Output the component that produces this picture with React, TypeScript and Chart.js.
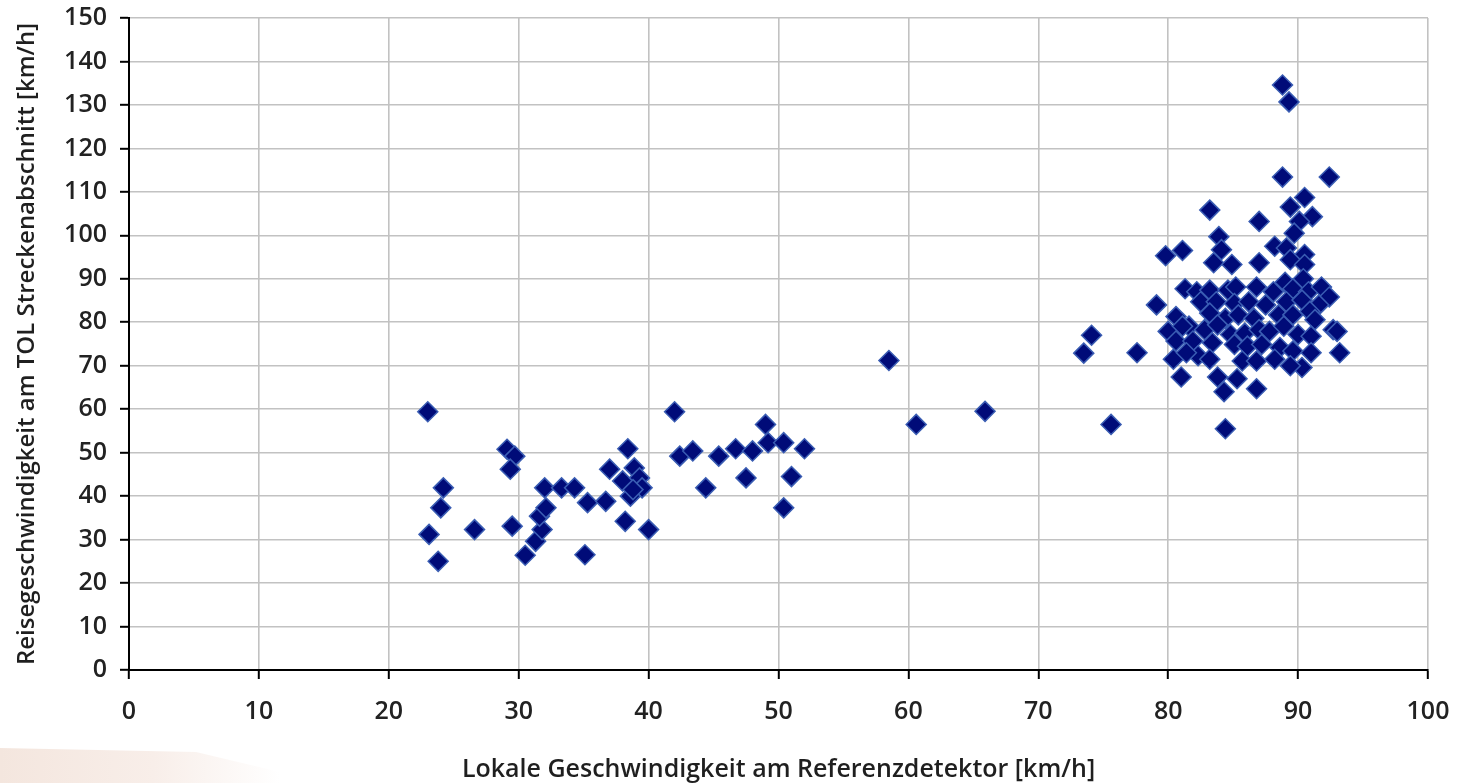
import React, { useEffect, useRef } from "react";
import { Chart, registerables } from "chart.js";

Chart.register(...registerables);

// Lokale Geschwindigkeit am Referenzdetektor [km/h] (x) vs. Reisegeschwindigkeit (y)
const lowX = [23.0, 29.1, 29.7, 29.35, 24.2, 24.0, 23.1, 23.8, 26.6, 29.5, 30.5, 31.3, 31.8, 31.6, 32.1, 32.0, 33.3, 34.3, 35.3, 35.1, 36.7, 37.0, 38.2, 38.0, 38.4, 38.9, 39.3, 39.5, 38.6, 38.8, 40.0, 42.0, 42.4, 43.4, 44.4, 45.4, 46.7, 47.5, 48.0, 49.0, 49.2, 50.4, 51.0, 50.4, 52.0];
const lowY = [59.4, 50.8, 49.2, 46.2, 41.9, 37.3, 31.2, 25.0, 32.3, 33.1, 26.4, 29.6, 32.3, 35.4, 37.3, 41.9, 41.9, 41.9, 38.5, 26.5, 38.8, 46.2, 34.2, 43.5, 50.9, 46.5, 44.2, 41.9, 40.0, 41.5, 32.3, 59.4, 49.2, 50.4, 41.9, 49.2, 50.9, 44.2, 50.4, 56.5, 52.3, 52.3, 44.5, 37.3, 50.9];

const midX = [58.5, 60.6, 65.9, 73.5, 74.1, 75.6, 77.6, 84.4];
const midY = [71.2, 56.5, 59.5, 72.9, 77.0, 56.5, 73.0, 55.5];

const topX = [88.8, 89.3, 88.8, 92.4, 90.5, 83.2, 89.4, 91.1, 87.0, 90.1, 89.7, 83.9, 84.1, 79.8, 81.1, 88.2, 89.1, 90.5, 83.5, 84.9, 87.0, 89.4, 90.5];
const topY = [134.6, 130.7, 113.4, 113.4, 108.7, 105.8, 106.5, 104.3, 103.2, 103.2, 100.5, 99.7, 96.7, 95.3, 96.5, 97.5, 97.1, 95.6, 93.7, 93.3, 93.7, 94.4, 93.3];

const coreX = [79.1, 81.3, 82.2, 83.2, 84.6, 85.2, 86.8, 88.1, 89.0, 89.6, 90.4, 90.8, 91.8, 92.4, 82.5, 83.7, 85.1, 86.2, 87.5, 89.1, 90.3, 91.6, 80.6, 83.2, 84.4, 85.4, 86.6, 88.5, 89.6, 90.9, 91.3, 80.0, 81.6, 82.8, 83.8, 84.8, 85.9, 87.0, 87.8, 88.9, 90.0, 91.0, 92.7, 93.0, 93.2, 80.6, 81.9, 83.4, 85.1, 86.1, 87.2, 88.6, 89.6, 91.0, 80.4, 82.3, 83.2, 85.7, 86.8, 88.2, 90.3, 81.0, 83.8, 85.3, 84.3, 86.8, 89.4, 81.1, 81.4];
const coreY = [84.0, 87.7, 87.0, 87.4, 87.4, 88.1, 88.1, 87.0, 89.2, 87.7, 90.0, 87.0, 88.1, 85.8, 84.7, 84.7, 84.3, 84.7, 84.0, 84.7, 85.1, 84.0, 81.3, 82.1, 80.9, 81.7, 80.9, 81.7, 81.7, 82.5, 80.6, 77.9, 79.1, 78.3, 79.4, 77.2, 77.5, 78.3, 77.9, 79.1, 77.2, 76.8, 78.3, 77.9, 73.0, 75.7, 75.7, 75.3, 74.9, 74.5, 74.9, 74.2, 73.4, 73.0, 71.5, 72.3, 71.5, 71.1, 71.1, 71.5, 69.6, 67.4, 67.4, 67.0, 64.0, 64.7, 70.0, 79.1, 73.0];

const xTickMin = 0;
const xTickMax = 100;
const yTickMin = 0;
const yTickMax = 150;

const xTitle = "Lokale Geschwindigkeit am Referenzdetektor [km/h]";
const yTitle = "Reisegeschwindigkeit am TOL Streckenabschnitt [km/h]";

const allX = [...lowX, ...midX, ...topX, ...coreX];
const allY = [...lowY, ...midY, ...topY, ...coreY];

export default function App() {
  const ref = useRef<HTMLCanvasElement | null>(null);

  useEffect(() => {
    document.body.style.margin = "0";
    const canvas = ref.current;
    if (!canvas) return;
    const fontFamily = "'Open Sans', sans-serif";
    const chart = new Chart(canvas, {
      type: "scatter",
      data: {
        datasets: [
          {
            data: allX.map((x, i) => ({ x, y: allY[i] })),
            pointStyle: "rectRot",
            pointRadius: 10,
            pointHoverRadius: 10,
            backgroundColor: "#000b78",
            borderColor: "#3a5db3",
            borderWidth: 1.5,
          },
        ],
      },
      options: {
        responsive: false,
        animation: false,
        devicePixelRatio: 1,
        layout: { padding: { left: 0, right: 30, top: 18, bottom: 0 } },
        plugins: { legend: { display: false }, tooltip: { enabled: false } },
        scales: {
          x: {
            type: "linear",
            min: xTickMin,
            max: xTickMax,
            afterFit: (s: any) => {
              s.height = 113;
              s.paddingLeft = 0;
              s.paddingRight = 0;
            },
            ticks: {
              stepSize: 10,
              padding: 18,
              color: "#222",
              font: { family: fontFamily, size: 25, weight: "600" },
            },
            grid: {
              color: "#c2c2c2",
              lineWidth: 1.6,
              tickColor: "#000",
              tickLength: 9,
              tickWidth: 2,
            },
            border: { color: "#000", width: 2 },
            title: {
              display: true,
              text: xTitle,
              color: "#1f1f1f",
              font: { family: fontFamily, size: 25, weight: "600", lineHeight: 1 },
              padding: { top: 0, bottom: 1 },
            },
          },
          y: {
            type: "linear",
            min: yTickMin,
            max: yTickMax,
            afterFit: (s: any) => {
              s.width = 129;
              s.paddingTop = 0;
              s.paddingBottom = 0;
            },
            ticks: {
              stepSize: 10,
              padding: 13,
              color: "#222",
              font: { family: fontFamily, size: 25, weight: "600" },
            },
            grid: {
              color: "#c2c2c2",
              lineWidth: 1.6,
              tickColor: "#000",
              tickLength: 9,
              tickWidth: 2,
            },
            border: { color: "#000", width: 2 },
            title: {
              display: true,
              text: yTitle,
              color: "#1f1f1f",
              font: { family: fontFamily, size: 24, weight: "600", lineHeight: 1 },
              padding: { top: 15, bottom: 0 },
            },
          },
        },
      },
    });
    return () => chart.destroy();
  }, []);

  return (
    <div style={{ position: "absolute", left: 0, top: 0, width: 1458, height: 783, background: "#fff", overflow: "hidden" }}>
      <div
        style={{
          position: "absolute",
          left: 0,
          top: 748,
          width: 280,
          height: 40,
          background: "linear-gradient(to right, #f4e6de, #f8eee9 55%, rgba(255,255,255,0))",
          clipPath: "polygon(0 0, 70% 10%, 100% 60%, 100% 100%, 0 100%)",
        }}
      />
      <canvas ref={ref} width={1458} height={783} style={{ position: "absolute", left: 0, top: 0 }} />
    </div>
  );
}
